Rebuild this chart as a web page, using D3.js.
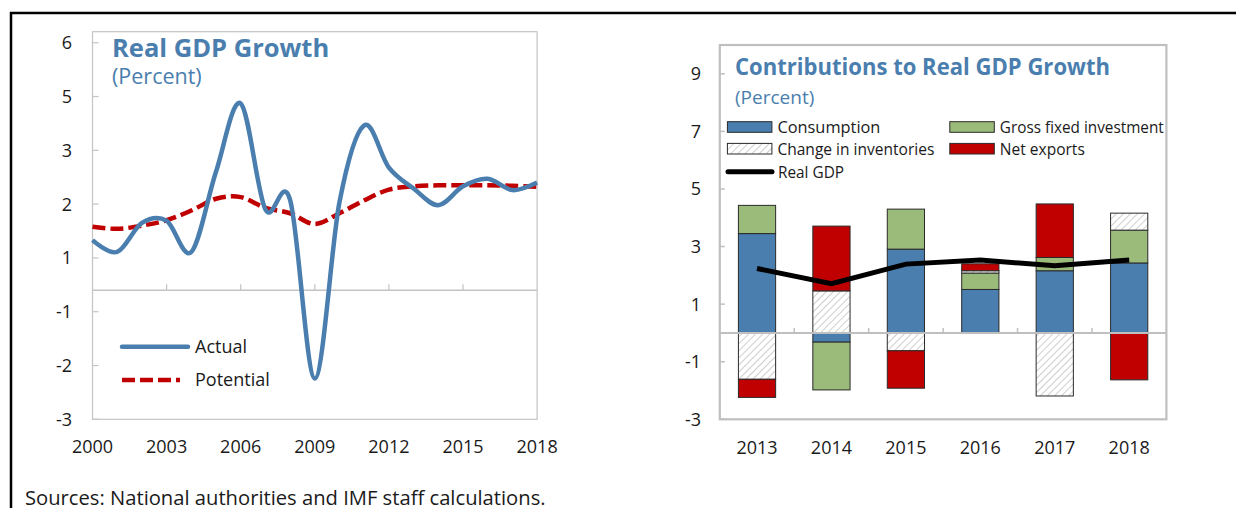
<!DOCTYPE html>
<html>
<head>
<meta charset="utf-8">
<script src="https://cdn.jsdelivr.net/npm/d3@7"></script>
<style>
  body { margin: 0; background: #fff; }
  text { font-family: "Open Sans", "Noto Sans", sans-serif; fill: #1a1a1a; }
</style>
</head>
<body>
<div id="a"></div>
<script>
// data
var years = [2000,2001,2002,2003,2004,2005,2006,2007,2008,2009,2010,2011,2012,2013,2014,2015,2016,2017,2018];
var actual = [1.33,1.11,1.65,1.69,1.11,2.60,4.74,1.90,2.08,-2.24,2.04,3.93,2.68,2.29,1.98,2.33,2.47,2.26,2.40];
var potential = [1.58,1.54,1.60,1.70,1.88,2.10,2.13,1.93,1.83,1.63,1.83,2.07,2.27,2.33,2.35,2.35,2.35,2.34,2.32];
var leftYTicks = [6,5,3,2,1,-1,-2,-3];
var leftXTicks = [2000,2003,2006,2009,2012,2015,2018];

var cats = ["2013","2014","2015","2016","2017","2018"];
var consumption = [3.45,-0.32,2.91,1.51,2.16,2.43];
var gfi = [0.98,-1.66,1.39,0.57,0.46,1.14];
var inventories = [-1.61,1.46,-0.62,0.08,-2.19,0.59];
var netExports = [-0.63,2.25,-1.30,0.24,1.86,-1.63];
var realGdp = [2.24,1.71,2.39,2.53,2.33,2.53];
var rightYTicks = [9,7,5,3,1,-1,-3];

var blue = "#4a7eae", green = "#9bbb7b", red = "#c00000", titleBlue = "#4a7eae";

var svg = d3.select("#a").append("svg")
  .attr("width", 1236).attr("height", 508);

var defs = svg.append("defs");
var pat = defs.append("pattern").attr("id","hatch").attr("patternUnits","userSpaceOnUse")
  .attr("width",5).attr("height",5).attr("patternTransform","rotate(45)");
pat.append("rect").attr("width",5).attr("height",5).attr("fill","#fff");
pat.append("line").attr("x1",0).attr("y1",0).attr("x2",0).attr("y2",5)
  .attr("stroke","#b5b5b5").attr("stroke-width",1.3);

// outer frame
svg.append("line").attr("x1",10).attr("x2",1236).attr("y1",13).attr("y2",13)
  .attr("stroke","#000").attr("stroke-width",2.5);
svg.append("line").attr("x1",11).attr("x2",11).attr("y1",12).attr("y2",508)
  .attr("stroke","#000").attr("stroke-width",2.5);

// ---------- left chart ----------
var L = {left:92.5, right:537.1, top:31.7, bottom:419.3};
var x1 = d3.scaleLinear().domain([2000,2018]).range([L.left, L.right]);
// the axis labels are unevenly valued but evenly placed
var step = (L.bottom - 42.7)/7;
var y1 = d3.scaleLinear()
  .domain([6,5,3,2,1,0,-1,-2,-3])
  .range([0,1,2,3,4,4.6,5,6,7].map(function(i){return 42.7 + i*step;}));

var gl = svg.append("g");
gl.append("rect").attr("x",L.left).attr("y",L.top).attr("width",L.right-L.left).attr("height",L.bottom-L.top)
  .attr("fill","none").attr("stroke","#c4c4c4").attr("stroke-width",1.2);
gl.selectAll(".yt").data(leftYTicks).enter().append("line")
  .attr("x1",L.left).attr("x2",L.left+6).attr("y1",function(d){return y1(d);}).attr("y2",function(d){return y1(d);})
  .attr("stroke","#c4c4c4").attr("stroke-width",1.2);
gl.selectAll(".yl").data(leftYTicks).enter().append("text")
  .attr("x",72).attr("y",function(d){return y1(d);}).attr("dy","0.36em")
  .attr("text-anchor","end").style("font-size","18px").text(function(d){return d;});
gl.append("line").attr("x1",L.left).attr("x2",L.right).attr("y1",y1(0)).attr("y2",y1(0))
  .attr("stroke","#c4c4c4").attr("stroke-width",1.5);
gl.selectAll(".xt").data(leftXTicks.slice(1,-1)).enter().append("line")
  .attr("x1",function(d){return x1(d);}).attr("x2",function(d){return x1(d);})
  .attr("y1",y1(0)).attr("y2",y1(0)-6).attr("stroke","#c4c4c4").attr("stroke-width",1.2);
gl.selectAll(".xl").data(leftXTicks).enter().append("text")
  .attr("x",function(d){return x1(d);}).attr("y",453)
  .attr("text-anchor","middle").style("font-size","18px").text(function(d){return d;});

var line1 = d3.line().curve(d3.curveCardinal.tension(0))
  .x(function(d,i){return x1(years[i]);}).y(function(d){return y1(d);});
gl.append("path").datum(potential).attr("d",line1).attr("fill","none")
  .attr("stroke",red).attr("stroke-width",4.5).attr("stroke-dasharray","13,5");
gl.append("path").datum(actual).attr("d",line1).attr("fill","none")
  .attr("stroke",blue).attr("stroke-width",4.5);

gl.append("text").attr("x",112).attr("y",57.3).style("font-size","25.5px").style("font-weight","bold")
  .style("fill",titleBlue).text("Real GDP Growth");
gl.append("text").attr("x",112).attr("y",84).style("font-size","21.5px")
  .style("fill",titleBlue).text("(Percent)");

// legend
gl.append("line").attr("x1",122).attr("x2",188).attr("y1",346.7).attr("y2",346.7)
  .attr("stroke",blue).attr("stroke-width",4.5).attr("stroke-linecap","round");
gl.append("text").attr("x",195).attr("y",346.7).attr("dy","0.36em").style("font-size","18px").text("Actual");
gl.append("line").attr("x1",122).attr("x2",180).attr("y1",380).attr("y2",380)
  .attr("stroke",red).attr("stroke-width",4.5).attr("stroke-dasharray","13,5");
gl.append("text").attr("x",195).attr("y",380).attr("dy","0.36em").style("font-size","18px").text("Potential");

// sources
svg.append("text").attr("x",25).attr("y",505).style("font-size","20.2px")
  .text("Sources: National authorities and IMF staff calculations.");

// ---------- right chart ----------
var R = {left:719.8, right:1166.4, top:45, bottom:419.3};
var x2 = d3.scaleBand().domain(cats).range([R.left, R.right]).paddingInner(0.5).paddingOuter(0.25);
var y2 = d3.scaleLinear().domain([-3,10]).range([R.bottom, R.top]);

var gr = svg.append("g");
gr.append("rect").attr("x",R.left).attr("y",R.top).attr("width",R.right-R.left).attr("height",R.bottom-R.top)
  .attr("fill","none").attr("stroke","#bfbfbf").attr("stroke-width",2.2);
gr.selectAll(".yt").data(rightYTicks).enter().append("line")
  .attr("x1",R.left).attr("x2",R.left+5).attr("y1",function(d){return y2(d);}).attr("y2",function(d){return y2(d);})
  .attr("stroke","#bfbfbf").attr("stroke-width",1.5);
gr.selectAll(".yl").data(rightYTicks).enter().append("text")
  .attr("x",701).attr("y",function(d){return y2(d);}).attr("dy","0.36em")
  .attr("text-anchor","end").style("font-size","18px").text(function(d){return d;});
gr.selectAll(".xl").data(cats).enter().append("text")
  .attr("x",function(d){return x2(d)+x2.bandwidth()/2;}).attr("y",454)
  .attr("text-anchor","middle").style("font-size","18px").text(function(d){return d;});

var table = cats.map(function(c,i){
  return {cat:c, consumption:consumption[i], gfi:gfi[i], inventories:inventories[i], netExports:netExports[i]};
});
var keys = ["consumption","gfi","inventories","netExports"];
var fills = {consumption:blue, gfi:green, inventories:"url(#hatch)", netExports:red};
var stack = d3.stack().keys(keys).offset(d3.stackOffsetDiverging)(table);

gr.selectAll(".series").data(stack).enter().append("g")
  .attr("fill",function(s){return fills[s.key];})
  .selectAll("rect").data(function(s){return s;}).enter().append("rect")
  .attr("x",function(d){return x2(d.data.cat);})
  .attr("width",x2.bandwidth())
  .attr("y",function(d){return y2(Math.max(d[0],d[1]));})
  .attr("height",function(d){return Math.abs(y2(d[0])-y2(d[1]));})
  .attr("stroke","#2a2a2a").attr("stroke-width",1);

gr.append("line").attr("x1",R.left).attr("x2",R.right).attr("y1",y2(0)).attr("y2",y2(0))
  .attr("stroke","#bfbfbf").attr("stroke-width",2);
gr.selectAll(".xt").data(cats.slice(1)).enter().append("line")
  .attr("x1",function(d){return x2(d) - (x2.step()-x2.bandwidth())/2;})
  .attr("x2",function(d){return x2(d) - (x2.step()-x2.bandwidth())/2;})
  .attr("y1",y2(0)).attr("y2",y2(0)-5).attr("stroke","#bfbfbf").attr("stroke-width",1.5);

gr.append("path").datum(realGdp)
  .attr("d",d3.line().x(function(d,i){return x2(cats[i])+x2.bandwidth()/2;}).y(function(d){return y2(d);}))
  .attr("fill","none").attr("stroke","#000").attr("stroke-width",5);

gr.append("text").attr("x",735).attr("y",75).attr("textLength",375).attr("lengthAdjust","spacingAndGlyphs")
  .style("font-size","23px").style("font-weight","bold").style("fill",titleBlue)
  .text("Contributions to Real GDP Growth");
gr.append("text").attr("x",735).attr("y",97.3).attr("dy","0.36em").style("font-size","19px")
  .style("fill",titleBlue).text("(Percent)");

// legend
var legItems = [
  {label:"Consumption", fill:blue, x:727.4, y:127, w:103},
  {label:"Gross fixed investment", fill:green, x:949.8, y:127, w:164},
  {label:"Change in inventories", fill:"url(#hatch)", x:727.4, y:148.7, w:157},
  {label:"Net exports", fill:red, x:949.8, y:148.7, w:85}
];
var lg = gr.selectAll(".leg").data(legItems).enter().append("g");
lg.append("rect").attr("x",function(d){return d.x;}).attr("y",function(d){return d.y-5.3;})
  .attr("width",44.5).attr("height",10.6).attr("fill",function(d){return d.fill;})
  .attr("stroke","#2a2a2a").attr("stroke-width",1);
lg.append("text").attr("x",function(d){return d.x+50;}).attr("y",function(d){return d.y;}).attr("dy","0.36em")
  .attr("textLength",function(d){return d.w;}).attr("lengthAdjust","spacingAndGlyphs")
  .style("font-size","17px").text(function(d){return d.label;});
gr.append("line").attr("x1",728).attr("x2",772).attr("y1",171.7).attr("y2",171.7)
  .attr("stroke","#000").attr("stroke-width",5).attr("stroke-linecap","round");
gr.append("text").attr("x",778).attr("y",171.7).attr("dy","0.36em").attr("textLength",66)
  .attr("lengthAdjust","spacingAndGlyphs").style("font-size","17px").text("Real GDP");
</script>
</body>
</html>
